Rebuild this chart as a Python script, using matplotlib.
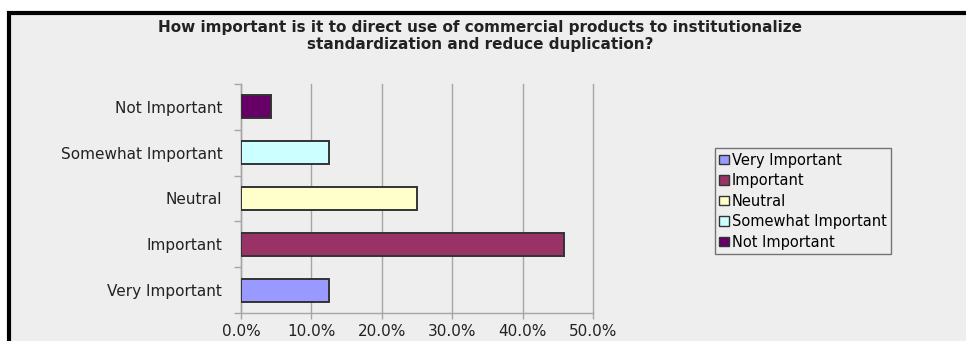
import matplotlib

matplotlib.use("Agg")
import matplotlib.pyplot as plt  # noqa: E402
from matplotlib.patches import Patch, Rectangle  # noqa: E402

TITLE = ("How important is it to direct use of commercial products to institutionalize\n"
         "standardization and reduce duplication?")
CATEGORIES = ["Very Important", "Important", "Neutral", "Somewhat Important", "Not Important"]
SHARES = [12.5, 45.8, 25.0, 12.5, 4.2]
COLORS = ["#9999FF", "#993366", "#FFFFCC", "#CCFFFF", "#660066"]
XTICKS = [0, 10, 20, 30, 40, 50]

BG = "#EEEEEE"
GRID = "#A6A6A6"

plt.rcParams["font.family"] = ["DejaVu Sans"]

fig = plt.figure(figsize=(9.66, 3.41), dpi=100, facecolor="white")
# outer chart frame (right and bottom edges run off the image)
fig.patches.append(Rectangle((0.0093, -0.1), 1.2, 1.062, transform=fig.transFigure,
                             facecolor=BG, edgecolor="black", linewidth=3, zorder=-5))

ax = fig.add_axes([0.2495, 0.082, 0.3645, 0.672])
ax.set_facecolor(BG)

ypos = list(range(len(CATEGORIES)))
ax.barh(ypos, SHARES, height=0.5, color=COLORS, edgecolor="#333333", linewidth=1.4, zorder=3)

ax.set_xlim(0, 50)
ax.set_ylim(-0.5, len(CATEGORIES) - 0.5)
ax.set_xticks(XTICKS)
ax.set_xticklabels([f"{v:.1f}%" for v in XTICKS], fontsize=11, color="#222222")
ax.set_yticks(ypos)
ax.set_yticklabels(CATEGORIES, fontsize=11, color="#222222")
ax.set_yticks([y - 0.5 for y in range(len(CATEGORIES) + 1)], minor=True)
ax.tick_params(axis="y", which="major", length=0, pad=13.5)
ax.tick_params(axis="y", which="minor", length=5, color=GRID, width=1)
ax.tick_params(axis="x", length=4, color=GRID, width=1, pad=4)
ax.grid(axis="x", color=GRID, linewidth=1, zorder=0)
for line in ax.get_xgridlines():
    line.set_clip_on(False)
for side in ("top", "right"):
    ax.spines[side].set_visible(False)
for side in ("left", "bottom"):
    ax.spines[side].set_color(GRID)
    ax.spines[side].set_linewidth(1)

fig.text(0.497, 0.895, TITLE, ha="center", va="center", fontsize=11,
         fontweight="bold", color="#222222", linespacing=1.15)

handles = [Patch(facecolor=c, edgecolor="#333333", linewidth=1) for c in COLORS]
leg = fig.legend(handles, CATEGORIES, loc="lower left", bbox_to_anchor=(0.74, 0.255),
                 fontsize=10.5, frameon=True, fancybox=False, handlelength=0.65,
                 handleheight=0.65, handletextpad=0.2, labelspacing=0.38,
                 borderpad=0.3, borderaxespad=0)
leg.get_frame().set_edgecolor("#555555")
leg.get_frame().set_facecolor(BG)
leg.get_frame().set_linewidth(1)

fig.savefig("out.png", dpi=100, facecolor="white")
